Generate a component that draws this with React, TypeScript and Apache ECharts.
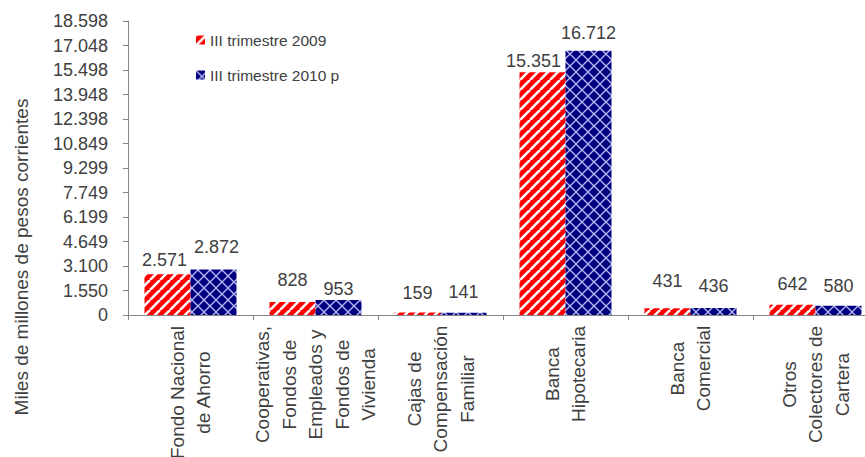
import React, { useEffect, useRef } from "react";
import * as echarts from "echarts";

// ---- data ----
const categories: string[][] = [
  ["Fondo Nacional", "de Ahorro"],
  ["Cooperativas,", "Fondos de", "Empleados y", "Fondos de", "Vivienda"],
  ["Cajas de", "Compensación", "Familiar"],
  ["Banca", "Hipotecaria"],
  ["Banca", "Comercial"],
  ["Otros", "Colectores de", "Cartera"],
];
const seriesNames = ["III trimestre 2009", "III trimestre 2010 p"];
const values2009 = [2571, 828, 159, 15351, 431, 642];
const values2010 = [2872, 953, 141, 16712, 436, 580];
const yMax = 18597.6;
const yInterval = 1549.8;
const yTitle = "Miles de millones de pesos corrientes";

// label layout tweaks (distance above bar, horizontal shift)
const labelDist2009 = [5, 13, 10, 2, 18, 12];
const labelDist2010 = [14, 2, 12, 9, 13, 11];
const labelDx2009 = [-3, 0, 0, -9, 0, 0];
const labelDx2010 = [3, 0, 0, 0, 0, 0];

const FONT = '"Liberation Sans", Arial, Helvetica, sans-serif';
const TEXT = "#404040";
const AXIS = "#868686";

function stripeTile(): HTMLCanvasElement {
  const s = 10;
  const c = document.createElement("canvas");
  c.width = s;
  c.height = s;
  const g = c.getContext("2d")!;
  g.fillStyle = "#ff0000";
  g.fillRect(0, 0, s, s);
  g.strokeStyle = "#ffffff";
  g.lineWidth = 2.6;
  for (let k = -1; k <= 1; k++) {
    g.beginPath();
    g.moveTo(k * s, s);
    g.lineTo(k * s + s, 0);
    g.stroke();
  }
  return c;
}

function hatchTile(): HTMLCanvasElement {
  const s = 12;
  const c = document.createElement("canvas");
  c.width = s;
  c.height = s;
  const g = c.getContext("2d")!;
  g.fillStyle = "#000080";
  g.fillRect(0, 0, s, s);
  g.strokeStyle = "#b8b8f4";
  g.lineWidth = 1.3;
  for (let k = -1; k <= 1; k++) {
    g.beginPath();
    g.moveTo(k * s, s);
    g.lineTo(k * s + s, 0);
    g.stroke();
    g.beginPath();
    g.moveTo(k * s, 0);
    g.lineTo(k * s + s, s);
    g.stroke();
  }
  return c;
}

function fmt(v: number): string {
  const n = Math.round(v);
  return String(n).replace(/\B(?=(\d{3})+(?!\d))/g, ".");
}

export default function App() {
  const ref = useRef<HTMLDivElement>(null);
  useEffect(() => {
    if (!ref.current) return;
    const chart = echarts.init(ref.current, undefined, { renderer: "svg" });

    const mctx = document.createElement("canvas").getContext("2d")!;
    mctx.font = `19px ${FONT}`;
    const rich: Record<string, any> = {};
    categories.forEach((lines, i) => {
      const w = Math.max(...lines.map((l) => mctx.measureText(l).width));
      rich["c" + i] = {
        width: Math.ceil(w) + 1,
        align: "center",
        fontSize: 19,
        lineHeight: 26.5,
        color: TEXT,
        fontFamily: FONT,
      };
    });

    const stripe = stripeTile();
    const hatch = hatchTile();

    const option: any = {
      animation: false,
      backgroundColor: "#ffffff",
      textStyle: { fontFamily: FONT },
      grid: { left: 128, top: 21, width: 750, height: 294, outerBoundsMode: "none", containLabel: false },
      legend: {
        orient: "vertical",
        left: 191,
        top: 27,
        itemWidth: 9,
        itemHeight: 9,
        itemGap: 19,
        icon: "rect",
        textStyle: { fontSize: 15.5, color: TEXT, fontFamily: FONT },
        data: seriesNames,
      },
      xAxis: {
        type: "category",
        data: categories.map((l) => l.join("\n")),
        axisLine: { show: true, lineStyle: { color: AXIS, width: 1 } },
        axisTick: { show: true, length: 5, lineStyle: { color: AXIS } },
        axisLabel: {
          interval: 0,
          rotate: 90,
          margin: 10,
          hideOverlap: false,
          formatter: (_v: string, idx: number) =>
            categories[idx].map((l) => `{c${idx}|${l}}`).join("\n"),
          rich,
        },
      },
      yAxis: {
        type: "value",
        min: 0,
        max: yMax,
        interval: yInterval,
        axisLine: { show: true, lineStyle: { color: AXIS, width: 1 } },
        axisTick: { show: true, length: 5, lineStyle: { color: AXIS } },
        splitLine: { show: false },
        axisLabel: {
          margin: 20,
          fontSize: 18,
          color: TEXT,
          fontFamily: FONT,
          formatter: (v: number) => fmt(v),
        },
      },
      graphic: [
        {
          type: "text",
          x: 21,
          y: 257,
          rotation: Math.PI / 2,
          style: {
            text: yTitle,
            fontSize: 19,
            fontFamily: FONT,
            fill: TEXT,
            align: "center",
            verticalAlign: "middle",
          },
        },
      ],
      series: [
        {
          name: seriesNames[0],
          type: "bar",
          barWidth: 46,
          barGap: "0%",
          itemStyle: {
            color: { image: stripe, repeat: "repeat", imageWidth: 10, imageHeight: 10 },
          },
          label: {
            show: true,
            position: "top",
            fontSize: 18,
            color: TEXT,
            fontFamily: FONT,
            formatter: (p: any) => fmt(p.value),
          },
          data: values2009.map((v, i) => ({
            value: v,
            label: { distance: labelDist2009[i], offset: [labelDx2009[i], 0] },
          })),
        },
        {
          name: seriesNames[1],
          type: "bar",
          barWidth: 46,
          barGap: "0%",
          itemStyle: {
            color: { image: hatch, repeat: "repeat", imageWidth: 12, imageHeight: 12 },
          },
          label: {
            show: true,
            position: "top",
            fontSize: 18,
            color: TEXT,
            fontFamily: FONT,
            formatter: (p: any) => fmt(p.value),
          },
          data: values2010.map((v, i) => ({
            value: v,
            label: { distance: labelDist2010[i], offset: [labelDx2010[i], 0] },
          })),
        },
      ],
    };
    chart.setOption(option);
    return () => chart.dispose();
  }, []);
  return (
    <div
      ref={ref}
      style={{ position: "fixed", left: 0, top: 0, width: 865, height: 457, background: "#fff" }}
    />
  );
}
